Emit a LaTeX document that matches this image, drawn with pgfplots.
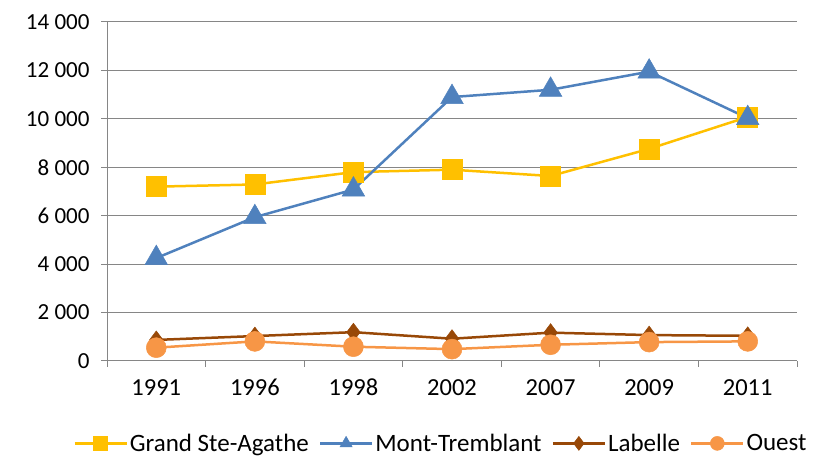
\documentclass[border=0pt]{standalone}
\usepackage{fontspec}
\setmainfont{Carlito}
\usepackage{pgfplots}
\pgfplotsset{compat=1.18}
\definecolor{cYel}{HTML}{FFC000}
\definecolor{cBlue}{HTML}{4F81BD}
\definecolor{cBrown}{HTML}{984807}
\definecolor{cOrange}{HTML}{F79646}
\definecolor{cGrid}{HTML}{868686}
\begin{document}
\begin{tikzpicture}[x=1bp,y=1bp]
\path[use as bounding box] (0,0) rectangle (818,459);
\begin{axis}[
 at={(107bp,98bp)},anchor=south west,
 scale only axis,width=690bp,height=339bp,
 xmin=-0.5,xmax=6.5,ymin=0,ymax=14000,
 axis x line=bottom,axis y line=left,axis line style={cGrid,line width=1bp,-},
 xtick={0,...,6},xticklabels={1991,1996,1998,2002,2007,2009,2011},
 minor xtick={-0.5,0.5,...,6.5},
 major x tick style={draw=none},
 tick align=outside,major tick length=6bp,minor tick length=6bp,
 every tick/.style={cGrid,line width=1bp},
 ytick={0,2000,...,14000},scaled y ticks=false,
 ymajorgrids,grid style={cGrid,line width=1bp},
 /pgf/number format/assume math mode=true,
 /pgf/number format/1000 sep={\ },
 yticklabel style={font=\fontsize{23bp}{26bp}\selectfont,xshift=-8bp},
 xticklabel style={font=\fontsize{24.5bp}{28bp}\selectfont,text height=16bp,text depth=0pt,yshift=-9bp},
 legend style={at={(0.484,-0.243)},anchor=center,legend columns=4,draw=none,
   font=\fontsize{25bp}{28bp}\selectfont,inner sep=0pt,
   /tikz/every even column/.append style={column sep=8bp}},
 legend image code/.code={\draw[mark repeat=2,mark phase=2] plot coordinates {(0bp,0bp) (26bp,0bp) (52bp,0bp)};},
 legend image post style={mark size=7bp},
 every axis plot/.append style={line width=2.5bp},
]
\addplot[cYel,mark=square*,mark size=10bp,mark options={solid,fill=cYel,line width=0.5bp}] coordinates {
(0,7200) (1,7290) (2,7800) (3,7900) (4,7640) (5,8760) (6,10080)};
\addplot[cBlue,mark=triangle*,mark size=13bp,mark options={solid,fill=cBlue,line width=0.5bp}] coordinates {
(0,4250) (1,5940) (2,7080) (3,10900) (4,11200) (5,11950) (6,10030)};
\addplot[cBrown,mark=diamond*,mark size=9bp,mark options={solid,fill=cBrown,line width=0.5bp}] coordinates {
(0,870) (1,1030) (2,1190) (3,920) (4,1170) (5,1070) (6,1040)};
\addplot[cOrange,mark=*,mark size=10bp,mark options={solid,fill=cOrange,line width=0.5bp}] coordinates {
(0,550) (1,810) (2,590) (3,490) (4,670) (5,780) (6,810)};
\legend{Grand Ste-Agathe,Mont-Tremblant,Labelle,Ouest}
\end{axis}
\end{tikzpicture}
\end{document}
